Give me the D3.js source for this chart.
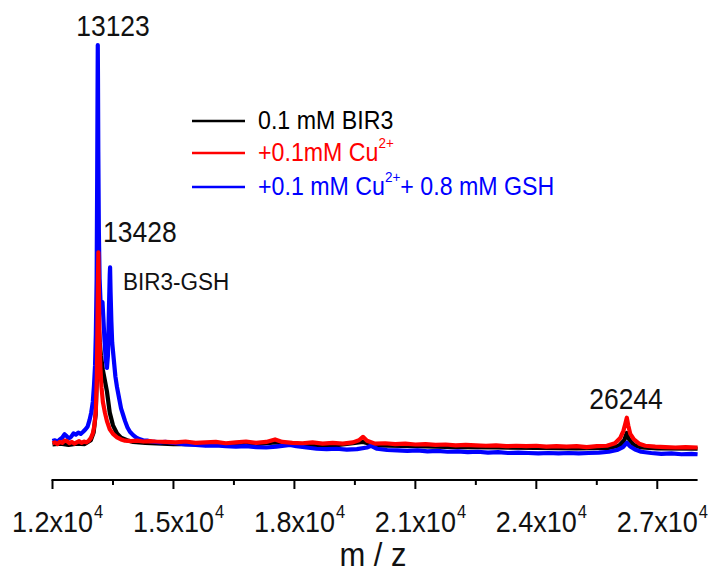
<!DOCTYPE html>
<html>
<head>
<meta charset="utf-8">
<script src="https://cdn.jsdelivr.net/npm/d3@7"></script>
<style>
  html, body { margin: 0; padding: 0; background: #fff; }
  svg { display: block; font-family: "Liberation Sans", Arial, sans-serif; }
</style>
</head>
<body>
<svg id="chart" width="719" height="574"></svg>
<script>
// MALDI-TOF spectra: [m/z, relative intensity (a.u.)]
const bir3 = [
  [12000, 6.0], [12200, 6.2], [12400, 5.9], [12600, 6.2], [12800, 6.1], [12950, 7.0],
  [13020, 8.8], [13070, 13.0], [13100, 22.0], [13118, 30.0], [13135, 34.5], [13152, 33.0],
  [13172, 30.0], [13200, 27.0], [13250, 23.5], [13300, 21.0], [13350, 18.5], [13420, 13.5],
  [13500, 10.5], [13600, 8.6], [13700, 7.6], [13850, 7.0], [14000, 6.6], [14300, 6.4],
  [15000, 6.1], [16000, 6.1], [17000, 6.0], [17520, 6.5], [18000, 6.0], [19000, 5.8],
  [19700, 6.6], [20000, 5.8], [21000, 5.6], [22000, 5.4], [23000, 5.3], [24000, 5.2],
  [25000, 5.1], [25800, 5.2], [26050, 5.7], [26180, 7.0], [26244, 8.7], [26300, 7.2],
  [26420, 5.9], [26600, 5.3], [27000, 5.1], [28000, 5.0]
];

const bir3Cu = [
  [12000, 6.3], [12060, 6.5], [12120, 6.1], [12180, 6.6], [12240, 6.4], [12300, 6.9],
  [12360, 6.8], [12420, 6.3], [12480, 6.6], [12540, 6.2], [12600, 6.5], [12660, 6.8],
  [12720, 6.4], [12780, 6.7], [12840, 6.5], [12900, 6.9], [12950, 7.5], [13000, 8.6],
  [13040, 10.5], [13075, 14.0], [13100, 22.0], [13115, 33.0], [13128, 45.0], [13138, 51.2],
  [13146, 46.0], [13158, 36.0], [13170, 30.0], [13188, 24.0], [13215, 19.5], [13250, 16.0],
  [13300, 13.5], [13350, 11.5], [13420, 9.6], [13500, 8.5], [13600, 7.7], [13700, 7.2],
  [13800, 6.9], [13950, 6.8], [14100, 6.9], [14250, 6.7], [14400, 6.8], [14550, 6.7],
  [14800, 6.6], [15050, 6.5], [15300, 6.7], [15550, 6.4], [15800, 6.5], [16050, 6.6],
  [16300, 6.3], [16550, 6.5], [16800, 6.7], [17050, 6.4], [17300, 6.6], [17520, 7.2],
  [17700, 6.6], [17950, 6.4], [18200, 6.3], [18450, 6.5], [18700, 6.2], [18950, 6.4],
  [19200, 6.2], [19450, 6.5], [19600, 7.0], [19700, 7.8], [19800, 6.9], [20000, 6.2],
  [20250, 6.3], [20500, 6.1], [20750, 6.2], [21000, 6.0], [21250, 6.1], [21500, 5.9],
  [21750, 6.0], [22000, 5.8], [22250, 5.9], [22500, 5.8], [22750, 5.7], [23000, 5.8],
  [23250, 5.6], [23500, 5.7], [23750, 5.6], [24000, 5.7], [24250, 5.5], [24500, 5.6],
  [24750, 5.5], [25000, 5.6], [25250, 5.4], [25500, 5.6], [25750, 5.7], [25950, 6.3],
  [26080, 7.5], [26160, 9.2], [26210, 11.0], [26244, 12.3], [26280, 10.5], [26330, 8.5],
  [26420, 7.2], [26550, 6.2], [26700, 5.7], [26950, 5.5], [27200, 5.4], [27450, 5.3],
  [27700, 5.4], [28000, 5.3]
];

const bir3CuGsh = [
  [12000, 6.8], [12060, 7.0], [12120, 6.6], [12180, 7.2], [12240, 7.6], [12300, 8.4],
  [12350, 8.0], [12400, 7.4], [12460, 7.8], [12520, 8.6], [12580, 8.3], [12640, 8.8],
  [12700, 8.5], [12760, 9.0], [12820, 9.6], [12870, 10.2], [12920, 11.8], [12960, 13.5],
  [13000, 16.0], [13030, 20.0], [13055, 24.5], [13075, 32.0], [13095, 45.0], [13108, 68.0],
  [13118, 90.0], [13123, 100.0], [13128, 92.0], [13136, 75.0], [13150, 56.0], [13168, 45.0],
  [13190, 40.0], [13215, 38.5], [13240, 39.5], [13260, 36.0], [13290, 30.5], [13320, 26.0],
  [13350, 24.0], [13375, 27.0], [13400, 38.0], [13420, 46.0], [13428, 47.7], [13440, 42.0],
  [13460, 35.0], [13480, 30.0], [13520, 26.0], [13560, 22.0], [13600, 19.5], [13650, 17.0],
  [13700, 14.5], [13750, 13.0], [13800, 11.5], [13860, 10.0], [13920, 9.0], [14000, 8.2],
  [14080, 7.6], [14170, 7.2], [14250, 7.0], [14350, 6.9], [14450, 6.7], [14550, 6.6],
  [14666, 6.5], [14800, 6.6], [15050, 6.3], [15300, 6.0], [15550, 5.9], [15800, 5.7],
  [16050, 5.8], [16300, 5.6], [16550, 5.5], [16800, 5.6], [17050, 5.4], [17300, 5.3],
  [17550, 5.5], [17890, 5.9], [18050, 5.6], [18300, 5.3], [18550, 5.0], [18800, 4.9],
  [19050, 5.0], [19300, 4.8], [19550, 4.9], [19800, 5.3], [19900, 5.7], [20050, 5.0],
  [20300, 4.7], [20550, 4.6], [20800, 4.5], [21050, 4.6], [21300, 4.4], [21550, 4.5],
  [21800, 4.3], [22050, 4.4], [22300, 4.2], [22550, 4.3], [22800, 4.1], [23050, 4.2],
  [23300, 4.0], [23550, 4.1], [23800, 4.0], [24050, 3.9], [24300, 4.0], [24550, 3.9],
  [24800, 4.0], [25050, 3.9], [25300, 4.0], [25550, 4.1], [25800, 4.3], [26000, 4.7],
  [26150, 5.4], [26244, 6.4], [26320, 5.6], [26450, 4.8], [26600, 4.3], [26850, 4.0],
  [27100, 3.8], [27350, 3.9], [27600, 3.7], [27850, 3.8], [28000, 3.7]
];

const seriesNames = ["0.1 mM BIR3", "+0.1mM Cu", "+0.1 mM Cu"];
const seriesColors = ["#000000", "#ff0000", "#0000ff"];
const tickValues = [12000, 15000, 18000, 21000, 24000, 27000];
const tickLabels = ["1.2x10", "1.5x10", "1.8x10", "2.1x10", "2.4x10", "2.7x10"];
const minorTicks = [13500, 16500, 19500, 22500, 25500];
const peakLabels = ["13123", "13428", "26244"];

const svg = d3.select("#chart");

const x = d3.scaleLinear().domain([12000, 28000]).range([52.5, 697.6]);
const y = d3.scaleLinear().domain([0, 100]).range([470, 45]);

const line = d3.line().x(d => x(d[0])).y(d => y(d[1]));

// spectra: black first, then blue, with the Cu2+ trace on top
const spectra = [
  { data: bir3, color: seriesColors[0] },
  { data: bir3CuGsh, color: seriesColors[2] },
  { data: bir3Cu, color: seriesColors[1] }
];
svg.append("g")
  .selectAll("path")
  .data(spectra)
  .join("path")
  .attr("d", d => line(d.data))
  .attr("fill", "none")
  .attr("stroke", d => d.color)
  .attr("stroke-width", 4.2)
  .attr("stroke-linejoin", "round");

// text placed at (tx, ty) with a slightly taller glyph shape
function label(parent, tx, ty, size, anchor, color) {
  return parent.append("text")
    .attr("transform", `translate(${tx},${ty}) scale(1,1.1)`)
    .attr("text-anchor", anchor)
    .attr("font-size", size)
    .attr("fill", color || "#000");
}

// bottom axis with major and minor ticks
const axisY = 480;
const gx = svg.append("g").attr("transform", `translate(0,${axisY})`);
gx.append("line")
  .attr("x1", x.range()[0] - 1).attr("x2", x.range()[1])
  .attr("stroke", "#000").attr("stroke-width", 2);
gx.selectAll(".major").data(tickValues).join("line")
  .attr("x1", d => x(d)).attr("x2", d => x(d))
  .attr("y1", 0).attr("y2", 9)
  .attr("stroke", "#000").attr("stroke-width", 2);
gx.selectAll(".minor").data(minorTicks).join("line")
  .attr("x1", d => x(d)).attr("x2", d => x(d))
  .attr("y1", 0).attr("y2", 5)
  .attr("stroke", "#000").attr("stroke-width", 2);

tickValues.forEach((v, i) => {
  const t = label(svg, x(v), 532, 27, "middle", "#111").text(tickLabels[i]);
  const w = t.node().getComputedTextLength();
  label(svg, x(v) + w / 2 + 1, 518, 16.5, "start", "#111").text("4");
});

label(svg, 373, 566, 31, "middle", "#111").text("m / z");

// peak annotations
label(svg, 113, 36, 26.5, "middle", "#111").text(peakLabels[0]);
label(svg, 103, 242, 26.5, "start", "#111").text(peakLabels[1]);
label(svg, 123, 290, 22.5, "start", "#111").text("BIR3-GSH");
label(svg, 626, 409, 26.5, "middle", "#111").text(peakLabels[2]);

// legend
const legendRows = [121, 153, 187];
const legend = svg.append("g");
legendRows.forEach((ly, i) => {
  legend.append("line")
    .attr("x1", 192).attr("x2", 245).attr("y1", ly).attr("y2", ly)
    .attr("stroke", seriesColors[i]).attr("stroke-width", 2.5);
});
label(legend, 258, 128.5, 23.2, "start", seriesColors[0]).text(seriesNames[0]);
const lt1 = label(legend, 258, 160.5, 23.2, "start", seriesColors[1]);
lt1.append("tspan").text(seriesNames[1]);
lt1.append("tspan").attr("font-size", 13.5).attr("dy", -11).text("2+");
const lt2 = label(legend, 258, 194.5, 23.2, "start", seriesColors[2]);
lt2.append("tspan").text(seriesNames[2]);
lt2.append("tspan").attr("font-size", 13.5).attr("dy", -11).text("2+");
lt2.append("tspan").attr("dy", 11).text("+ 0.8 mM GSH");
</script>
</body>
</html>
